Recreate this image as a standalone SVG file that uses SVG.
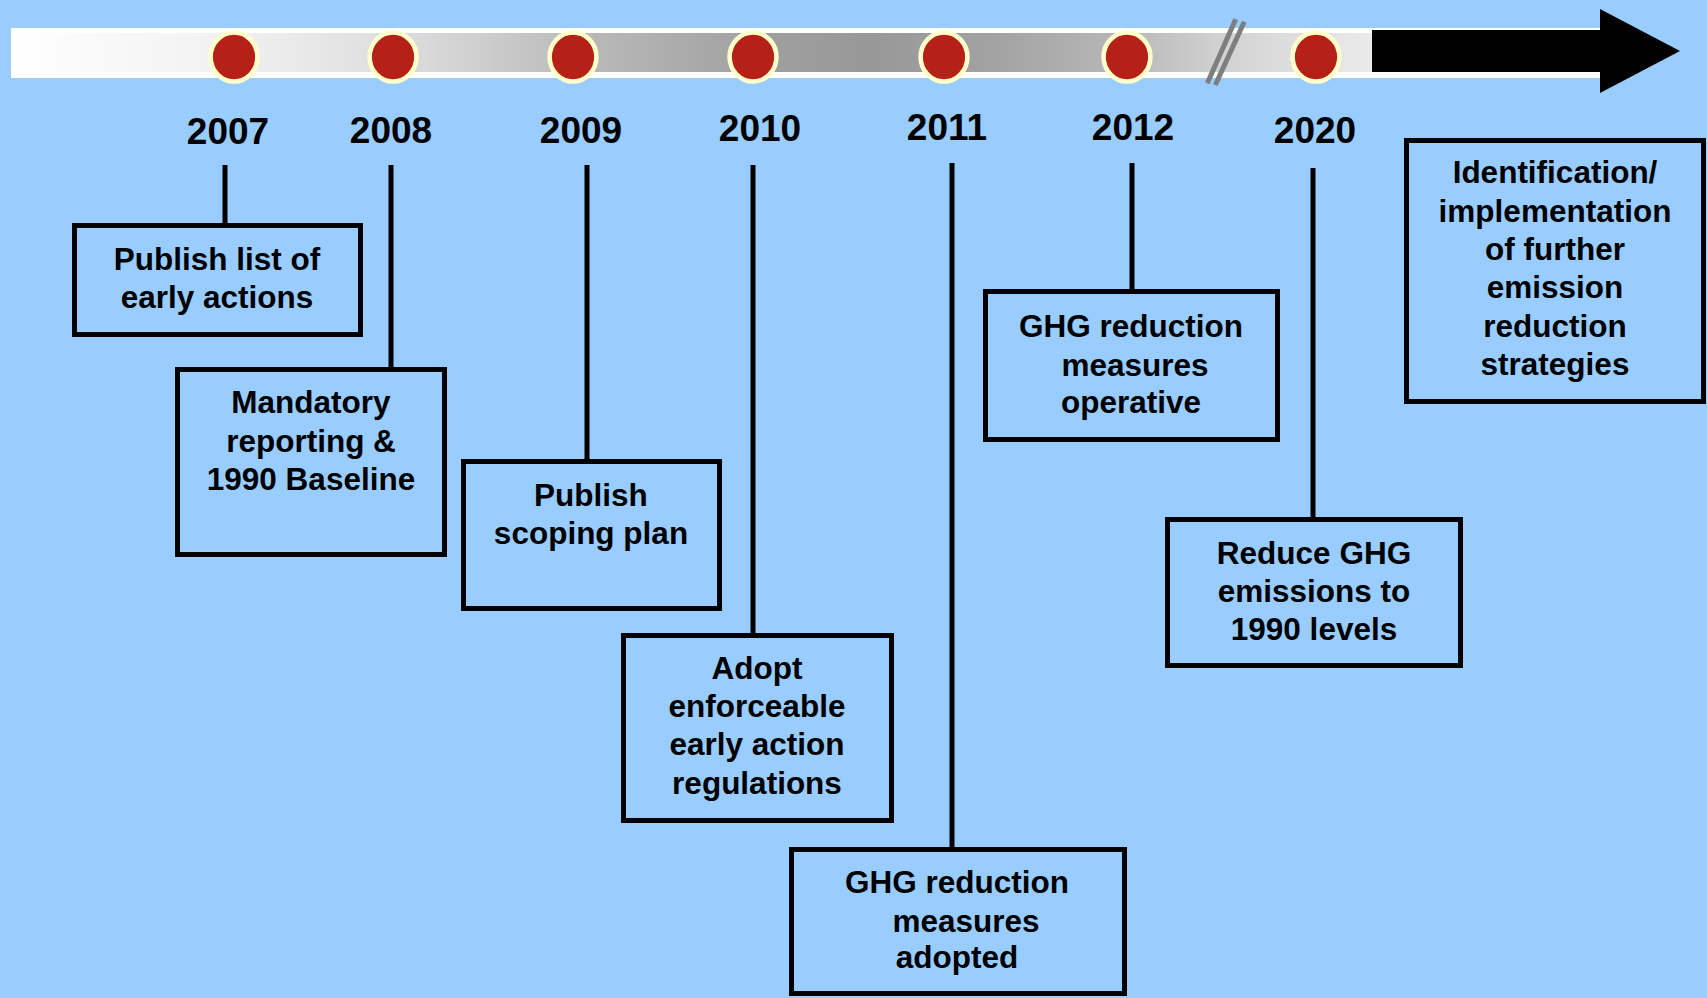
<svg xmlns="http://www.w3.org/2000/svg" width="1707" height="998" viewBox="0 0 1707 998">
<defs>
<linearGradient id="barGrad" gradientUnits="userSpaceOnUse" x1="11" y1="0" x2="1372" y2="0">
<stop offset="0" stop-color="#ffffff"/>
<stop offset="0.17" stop-color="#f0f0f0"/>
<stop offset="0.3" stop-color="#dadada"/>
<stop offset="0.42" stop-color="#bababa"/>
<stop offset="0.55" stop-color="#a0a0a0"/>
<stop offset="0.63" stop-color="#989898"/>
<stop offset="0.72" stop-color="#a2a2a2"/>
<stop offset="0.82" stop-color="#b8b8b8"/>
<stop offset="0.89" stop-color="#d2d2d2"/>
<stop offset="1" stop-color="#ebebeb"/>
</linearGradient>
</defs>
<style>
.box{fill:#99ccff;stroke:#000;stroke-width:5}
.conn{stroke:#000;stroke-width:5;fill:none}
.dot{fill:#b52017;stroke:#ffffcc;stroke-width:4.6}
.brk{stroke:#7f7f7f;stroke-width:5}
.yr{font-family:"Liberation Sans",Arial,sans-serif;font-weight:bold;font-size:37px;fill:#000;text-anchor:middle}
.lbl{font-family:"Liberation Sans",Arial,sans-serif;font-weight:bold;font-size:31.5px;fill:#000;text-anchor:middle}
</style>
<rect x="0" y="0" width="1707" height="998" fill="#99ccff"/>

<g id="timeline">
<rect x="11" y="28" width="1589" height="50" fill="#ffffff"/>
<rect x="11" y="33" width="1361" height="39" fill="url(#barGrad)"/>
<rect x="1372" y="30" width="228" height="42" fill="#000"/>
<polygon points="1600,9 1680,51 1600,93" fill="#000"/>
<line class="brk" x1="1207.3" y1="83.3" x2="1235.7" y2="19.3"/>
<line class="brk" x1="1215.3" y1="85" x2="1244.3" y2="21.7"/>
</g>

<g id="markers">
<ellipse class="dot" cx="234" cy="57" rx="23.4" ry="24.5"/>
<ellipse class="dot" cx="393" cy="57" rx="23.4" ry="24.5"/>
<ellipse class="dot" cx="573" cy="57" rx="23.4" ry="24.5"/>
<ellipse class="dot" cx="753" cy="57" rx="23.4" ry="24.5"/>
<ellipse class="dot" cx="944" cy="57" rx="23.4" ry="24.5"/>
<ellipse class="dot" cx="1127" cy="57" rx="23.4" ry="24.5"/>
<ellipse class="dot" cx="1316" cy="57" rx="23.4" ry="24.5"/>
</g>

<g id="years">
<text class="yr" x="228" y="144">2007</text>
<text class="yr" x="391" y="143">2008</text>
<text class="yr" x="581" y="143">2009</text>
<text class="yr" x="760" y="141">2010</text>
<text class="yr" x="947" y="140">2011</text>
<text class="yr" x="1133" y="140">2012</text>
<text class="yr" x="1315" y="143">2020</text>
</g>

<g id="connectors">
<line class="conn" x1="225" y1="165" x2="225" y2="225"/>
<line class="conn" x1="391" y1="165" x2="391" y2="370"/>
<line class="conn" x1="587" y1="165" x2="587" y2="461"/>
<line class="conn" x1="753" y1="165" x2="753" y2="635"/>
<line class="conn" x1="952" y1="163" x2="952" y2="849"/>
<line class="conn" x1="1132" y1="163" x2="1132" y2="291"/>
<line class="conn" x1="1313" y1="168" x2="1313" y2="519"/>
</g>

<g id="node-2007">
<rect class="box" x="74.5" y="225.5" width="286" height="109"/>
<text class="lbl" x="217" y="270">Publish list of</text>
<text class="lbl" x="217" y="308">early actions</text>
</g>

<g id="node-2008">
<rect class="box" x="177.5" y="369.5" width="267" height="185"/>
<text class="lbl" x="311" y="413">Mandatory</text>
<text class="lbl" x="311" y="452">reporting &amp;</text>
<text class="lbl" x="311" y="490">1990 Baseline</text>
</g>

<g id="node-2009">
<rect class="box" x="463.5" y="461.5" width="256" height="147"/>
<text class="lbl" x="591" y="506">Publish</text>
<text class="lbl" x="591" y="544">scoping plan</text>
</g>

<g id="node-2010">
<rect class="box" x="623.5" y="635.5" width="268" height="185"/>
<text class="lbl" x="757" y="679">Adopt</text>
<text class="lbl" x="757" y="717">enforceable</text>
<text class="lbl" x="757" y="755">early action</text>
<text class="lbl" x="757" y="794">regulations</text>
</g>

<g id="node-2011">
<rect class="box" x="791.5" y="849.5" width="333" height="144"/>
<text class="lbl" x="957" y="893">GHG reduction</text>
<text class="lbl" x="966" y="932">measures</text>
<text class="lbl" x="957" y="968">adopted</text>
</g>

<g id="node-2012">
<rect class="box" x="985.5" y="291.5" width="292" height="148"/>
<text class="lbl" x="1131" y="337">GHG reduction</text>
<text class="lbl" x="1135" y="376">measures</text>
<text class="lbl" x="1131" y="413">operative</text>
</g>

<g id="node-2020">
<rect class="box" x="1167.5" y="519.5" width="293" height="146"/>
<text class="lbl" x="1314" y="564">Reduce GHG</text>
<text class="lbl" x="1314" y="602">emissions to</text>
<text class="lbl" x="1314" y="640">1990 levels</text>
</g>

<g id="node-future">
<rect class="box" x="1406.5" y="140.5" width="297" height="261"/>
<text class="lbl" x="1555" y="183">Identification/</text>
<text class="lbl" x="1555" y="222">implementation</text>
<text class="lbl" x="1555" y="260">of further</text>
<text class="lbl" x="1555" y="298">emission</text>
<text class="lbl" x="1555" y="337">reduction</text>
<text class="lbl" x="1555" y="375">strategies</text>
</g>
</svg>
